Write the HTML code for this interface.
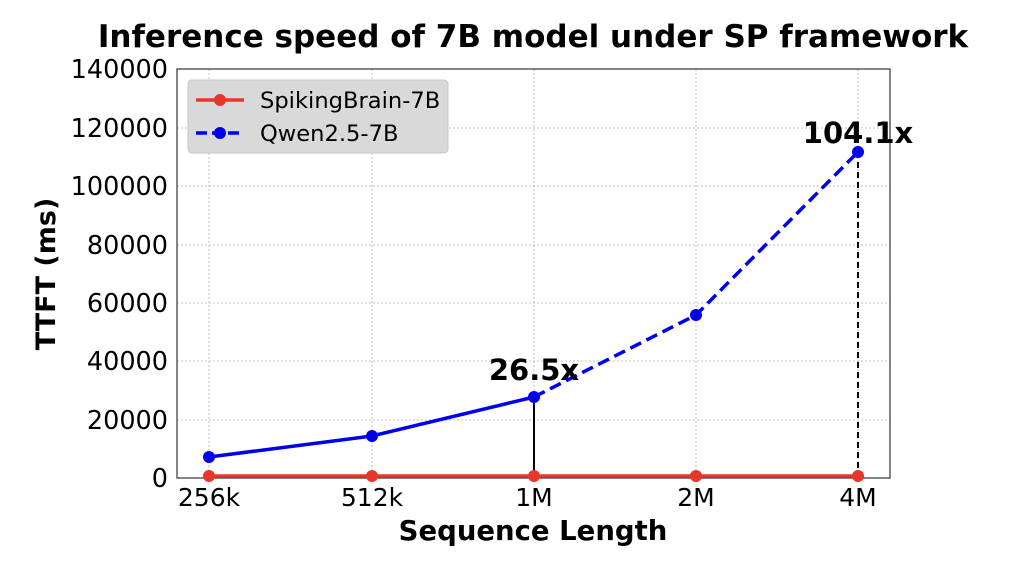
<!DOCTYPE html>
<html><head><style>body{margin:0;background:#fff}</style></head><body>
<svg width="1024" height="562" xmlns="http://www.w3.org/2000/svg" font-family="'DejaVu Sans','Liberation Sans',sans-serif">
<rect width="1024" height="562" fill="#fff"/>
<g stroke="#b0b0b0" stroke-width="0.8" stroke-dasharray="2,2">
<line x1="177" x2="890" y1="420" y2="420"/><line x1="177" x2="890" y1="361" y2="361"/><line x1="177" x2="890" y1="303" y2="303"/><line x1="177" x2="890" y1="245" y2="245"/><line x1="177" x2="890" y1="186" y2="186"/><line x1="177" x2="890" y1="128" y2="128"/>
<line x1="209" x2="209" y1="69" y2="478"/><line x1="372" x2="372" y1="69" y2="478"/><line x1="534" x2="534" y1="69" y2="478"/><line x1="696" x2="696" y1="69" y2="478"/><line x1="858" x2="858" y1="69" y2="478"/>
</g>
<rect x="177" y="69" width="713" height="409" fill="none" stroke="#333" stroke-width="1.2"/>
<g font-size="25.5" text-anchor="end" fill="#000">
<text x="168" y="487">0</text><text x="168" y="429">20000</text><text x="168" y="370">40000</text><text x="168" y="312">60000</text><text x="168" y="254">80000</text><text x="168" y="195">100000</text><text x="168" y="137">120000</text><text x="168" y="78">140000</text>
</g>
<g font-size="25" text-anchor="middle"><text x="209" y="506">256k</text><text x="372" y="506">512k</text><text x="534" y="506">1M</text><text x="696" y="506">2M</text><text x="858" y="506">4M</text></g>
<line x1="534" y1="397" x2="534" y2="478" stroke="#000" stroke-width="2"/>
<line x1="858" y1="152" x2="858" y2="478" stroke="#000" stroke-width="2" stroke-dasharray="6,4"/>
<polyline points="209,476 372,476 534,476 696,476 858,476" fill="none" stroke="#e8362a" stroke-width="3.5"/>
<g fill="#e8362a"><circle cx="209" cy="476" r="6"/><circle cx="372" cy="476" r="6"/><circle cx="534" cy="476" r="6"/><circle cx="696" cy="476" r="6"/><circle cx="858" cy="476" r="6"/></g>
<polyline points="209,457 372,436 534,397" fill="none" stroke="#0000ee" stroke-width="3.5"/>
<polyline points="534,397 696,315 858,152" fill="none" stroke="#0000ee" stroke-width="3.5" stroke-dasharray="12,6"/>
<g fill="#0000ee"><circle cx="209" cy="457" r="6"/><circle cx="372" cy="436" r="6"/><circle cx="534" cy="397" r="6"/><circle cx="696" cy="315" r="6"/><circle cx="858" cy="152" r="6"/></g>
<g font-size="29" font-weight="bold" text-anchor="middle"><text x="534" y="380">26.5x</text><text x="858" y="143">104.1x</text></g>
<rect x="188" y="80" width="260" height="73" rx="4" fill="#d9d9d9" stroke="#c8c8c8"/>
<line x1="196" y1="100" x2="244" y2="100" stroke="#e8362a" stroke-width="3.5"/><circle cx="220" cy="100" r="6" fill="#e8362a"/>
<line x1="196" y1="133" x2="244" y2="133" stroke="#0000ee" stroke-width="3.5" stroke-dasharray="11,5"/><circle cx="220" cy="133" r="6" fill="#0000ee"/>
<g font-size="22.6"><text x="260" y="108">SpikingBrain-7B</text><text x="260" y="141">Qwen2.5-7B</text></g>
<text x="533" y="47" font-size="31" font-weight="bold" text-anchor="middle">Inference speed of 7B model under SP framework</text>
<text x="533" y="540" font-size="27.5" font-weight="bold" text-anchor="middle">Sequence Length</text>
<text transform="translate(55,274) rotate(-90)" font-size="27" font-weight="bold" text-anchor="middle">TTFT (ms)</text>
</svg>
</body></html>
